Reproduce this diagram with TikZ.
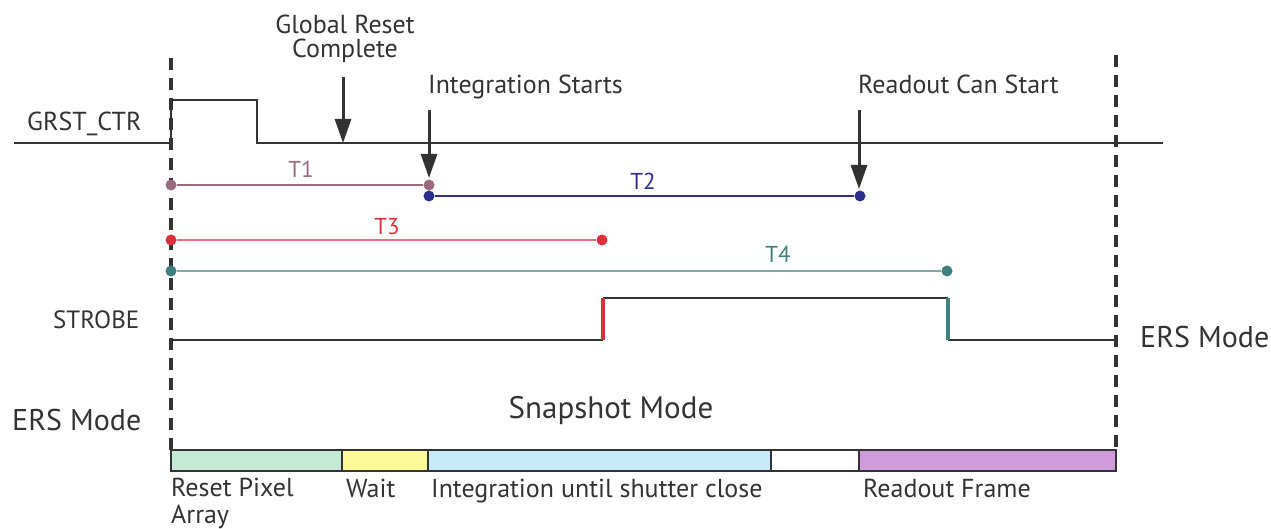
\documentclass[tikz,border=0pt]{standalone}
\usepackage{fontspec}
\setmainfont{PT Sans}
\usetikzlibrary{arrows.meta}
\definecolor{ink}{HTML}{333333}
\definecolor{cTone}{HTML}{9A6A7E}
\definecolor{cTtwo}{HTML}{2B2F8C}
\definecolor{cTthree}{HTML}{DD2E3A}
\definecolor{cTthreeL}{HTML}{E8707A}
\definecolor{cTfour}{HTML}{3F7F80}
\definecolor{cTfourL}{HTML}{80AAAA}
\definecolor{fGreen}{HTML}{C4EAD5}
\definecolor{fYellow}{HTML}{FFFA99}
\definecolor{fBlue}{HTML}{C8EAF8}
\definecolor{fPurple}{HTML}{D09BDA}
\tikzset{
  sig/.style={draw=ink, line width=1.8pt},
  boundary/.style={draw=ink, line width=4pt, dash pattern=on 12pt off 8pt},
  pointer/.style={draw=ink, line width=3pt, -{Triangle[width=16pt,length=24pt]}},
  lbl/.style={inner sep=0pt, text=ink, font=\fontsize{26}{24}\selectfont},
  big/.style={inner sep=0pt, text=ink, font=\fontsize{30}{36}\selectfont},
  tlbl/.style={inner sep=0pt, font=\fontsize{23}{26}\selectfont},
  dot/.style={circle, inner sep=0pt, minimum size=11pt},
  seg/.style={draw=ink, line width=2pt},
}
\begin{document}
\begin{tikzpicture}[x=1pt,y=-1pt]
\useasboundingbox (0,0) rectangle (1271,529);
% boundaries
\coordinate (bLtop) at (171,58);
\coordinate (bLbot) at (171,450);
\coordinate (bRtop) at (1116,55);
\coordinate (bRbot) at (1116,450);
\draw[boundary] (bLtop) -- (bLbot);
\draw[boundary] (bRtop) -- (bRbot);
% GRST_CTR signal
\coordinate (g0) at (14,143);
\coordinate (g1) at (171,143);
\coordinate (g2) at (171,100);
\coordinate (g3) at (257,100);
\coordinate (g4) at (257,143);
\coordinate (g5) at (1163,143);
\draw[sig] (g0) -- (g1) -- (g2) -- (g3) -- (g4) -- (g5);
\node[lbl, anchor=base west] (grst) at (27,131) {GRST\_CTR};
% annotations with arrows
\node[lbl, anchor=base, align=center] (grc) at (345,58) {Global Reset\\Complete};
\coordinate (grcA) at (343,77);
\coordinate (grcB) at (343,143);
\draw[pointer] (grcA) -- (grcB);
\node[lbl, anchor=base west] (ist) at (428,94) {Integration Starts};
\coordinate (istA) at (429,110);
\coordinate (istB) at (429,178);
\draw[pointer] (istA) -- (istB);
\node[lbl, anchor=base west] (rcs) at (858,94) {Readout Can Start};
\coordinate (rcsA) at (859,110);
\coordinate (rcsB) at (859,189);
\draw[pointer] (rcsA) -- (rcsB);
% T1
\node[dot, fill=cTone] (t1a) at (171,185) {};
\node[dot, fill=cTone] (t1b) at (429,185) {};
\draw[cTone, line width=2pt] (t1a) -- (t1b);
\node[tlbl, text=cTone, anchor=base] (t1) at (301,178) {T1};
% T2
\node[dot, fill=cTtwo] (t2a) at (429,196) {};
\node[dot, fill=cTtwo] (t2b) at (860,196) {};
\draw[cTtwo, line width=2pt] (t2a) -- (t2b);
\node[tlbl, text=cTtwo, anchor=base] (t2) at (643,190) {T2};
% T3
\node[dot, fill=cTthree] (t3a) at (171,240) {};
\node[dot, fill=cTthree] (t3b) at (602,240) {};
\draw[cTthreeL, line width=1.2pt] (t3a) -- (t3b);
\node[tlbl, text=cTthree, anchor=base] (t3) at (387,235) {T3};
% T4
\node[dot, fill=cTfour] (t4a) at (171,271) {};
\node[dot, fill=cTfour] (t4b) at (947,271) {};
\draw[cTfourL, line width=1.2pt] (t4a) -- (t4b);
\node[tlbl, text=cTfour, anchor=base] (t4) at (778,262) {T4};
% STROBE
\coordinate (s0) at (171,340);
\coordinate (s1) at (603,340);
\coordinate (s2) at (603,298);
\coordinate (s3) at (948,298);
\coordinate (s4) at (948,340);
\coordinate (s5) at (1116,340);
\draw[ink, line width=1.2pt] (s0) -- (s1);
\draw[ink, line width=1.2pt] (s2) -- (s3);
\draw[ink, line width=1.2pt] (s4) -- (s5);
\draw[cTthree, line width=4pt] (s1) -- (s2);
\draw[cTfour, line width=4pt] (s3) -- (s4);
\node[lbl, anchor=base west, font=\fontsize{25}{28}\selectfont] (strobe) at (53,328) {STROBE};
% modes
\node[big, anchor=base west] (ersR) at (1140,347) {ERS Mode};
\node[big, anchor=base west] (ersL) at (12,430) {ERS Mode};
\node[big, anchor=base, font=\fontsize{31}{36}\selectfont] (snap) at (611,418) {Snapshot Mode};
% bar
\draw[seg, fill=fGreen] (171,450) rectangle (342,471);
\draw[seg, fill=fYellow] (342,450) rectangle (428,471);
\draw[seg, fill=fBlue] (428,450) rectangle (771,471);
\draw[seg, fill=white] (771,450) rectangle (859,471);
\draw[seg, fill=fPurple] (859,450) rectangle (1116,471);
\node[lbl, anchor=base west, align=left, font=\fontsize{26}{27}\selectfont] (rpa) at (171,523) {Reset Pixel\\Array};
\node[lbl, anchor=base west] (wait) at (346,497) {Wait};
\node[lbl, anchor=base west] (integ) at (431,497) {Integration until shutter close};
\node[lbl, anchor=base west] (rof) at (863,497) {Readout Frame};
\end{tikzpicture}
\end{document}
